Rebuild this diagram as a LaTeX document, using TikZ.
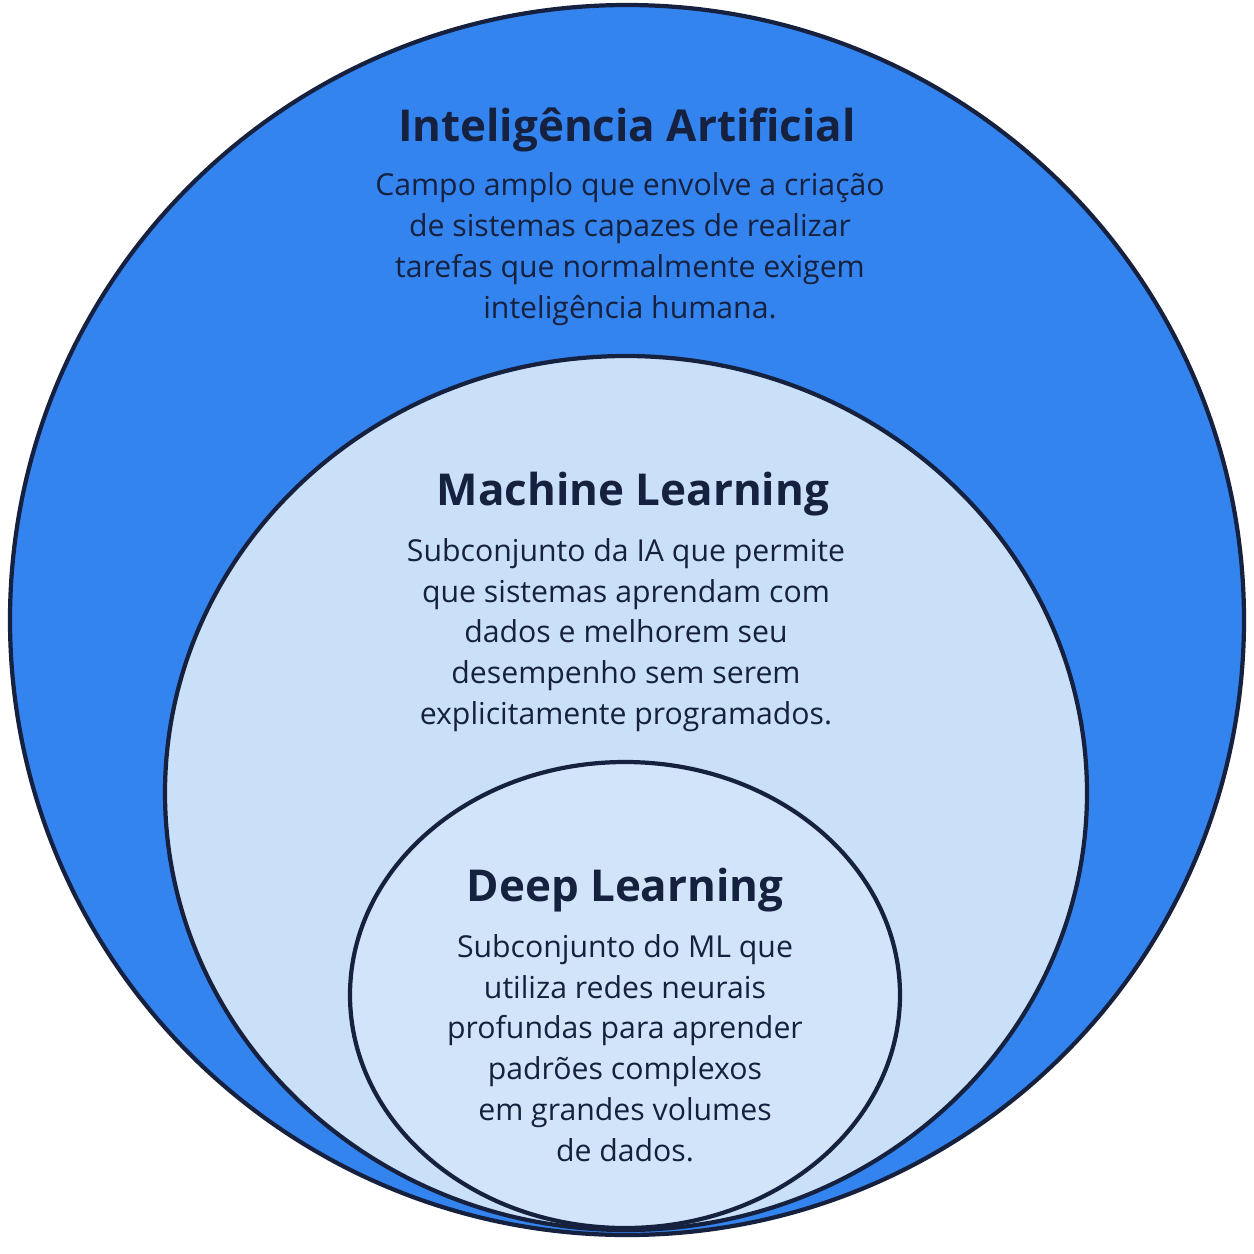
\documentclass[tikz,border=0pt]{standalone}
\usepackage{fontspec}
\setmainfont{Open Sans}
\usepackage{xcolor}
\definecolor{navy}{HTML}{16213F}
\definecolor{aiblue}{HTML}{3484F0}
\definecolor{mlblue}{HTML}{CADFF8}
\definecolor{dlblue}{HTML}{D2E4F9}
\usetikzlibrary{positioning}
\begin{document}
\begin{tikzpicture}[
    x=0.1mm, y=-0.1mm,
    set/.style={draw=navy, line width=1.2pt},
    title/.style={text=navy, font=\fontsize{12.5}{15}\selectfont\bfseries},
    desc/.style={text=navy, align=center, font=\fontsize{8.6}{11.6}\selectfont}
]
    \useasboundingbox (0,0) rectangle (1254,1254);
    % nested sets
    \draw[set, fill=aiblue] (627,620) ellipse [x radius=617, y radius=615];
    \draw[set, fill=mlblue] (626,793) ellipse [x radius=461, y radius=437];
    \draw[set, fill=dlblue] (625,995) ellipse [x radius=275, y radius=233];

    \node[title] (ai) at (627,130) {Inteligência Artificial};
    \node[desc] (aitext) at (630,249) {Campo amplo que envolve a criação\\de sistemas capazes de realizar\\tarefas que normalmente exigem\\inteligência humana.};

    \node[title] (ml) at (633,494) {Machine Learning};
    \node[desc] (mltext) at (626,635) {Subconjunto da IA que permite\\que sistemas aprendam com\\dados e melhorem seu\\desempenho sem serem\\explicitamente programados.};

    \node[title] (dl) at (625,890) {Deep Learning};
    \node[desc] (dltext) at (625,1048) {Subconjunto do ML que\\utiliza redes neurais\\profundas para aprender\\padrões complexos\\em grandes volumes\\de dados.};
\end{tikzpicture}
\end{document}
